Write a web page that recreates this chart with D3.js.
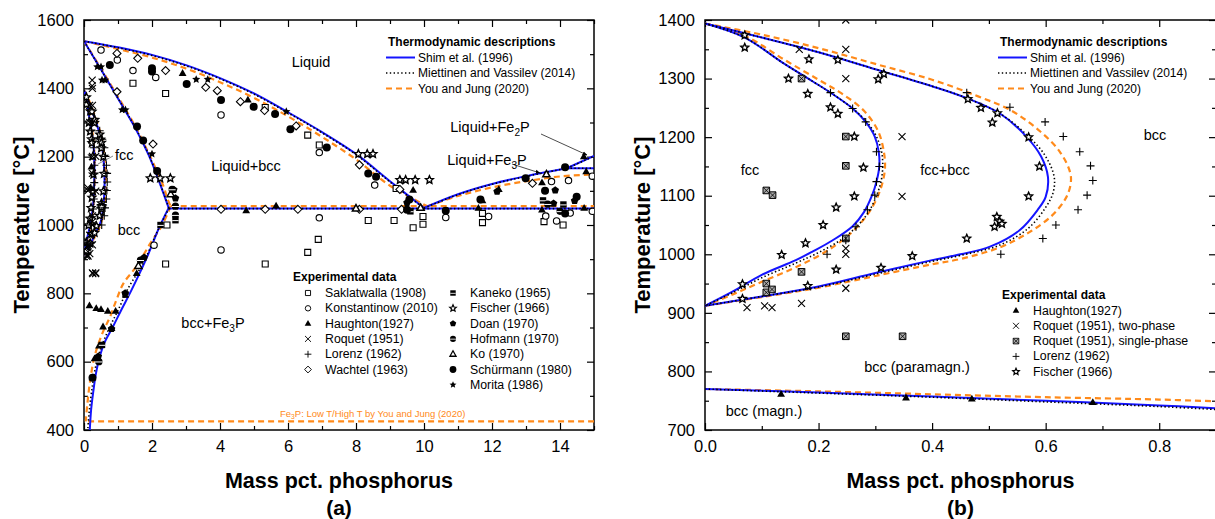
<!DOCTYPE html>
<html><head><meta charset="utf-8">
<script src="https://cdn.jsdelivr.net/npm/d3@7"></script>
<style>
body{margin:0;background:#fff;}
svg{display:block;font-family:"Liberation Sans",Arial,sans-serif;}
</style></head><body>
<svg id="chart" width="1215" height="519"></svg>
<script>
// ===== Calculated phase boundaries, panel (a): 0–15 mass% P =====
const shimLiquidus = [[0,1538],[1,1520],[2,1498],[3,1468],[4,1430],[5,1385],[6,1330],[7,1272],[8,1208],[9,1128],[10.0,1050]];
const shimSolidus  = [[0,1538],[0.5,1455],[1,1370],[1.5,1285],[1.9,1205],[2.2,1130],[2.49,1050]];
const shimSolvus   = [[2.49,1050],[2.2,990],[1.85,905],[1.4,810],[1.1,752],[0.85,702],[0.6,655],[0.45,610],[0.35,565],[0.27,510],[0.21,460],[0.17,400]];
const shimEutectic = [[2.49,1048],[15,1048]];
const shimFe3PLiq  = [[10.0,1050],[11,1090],[12,1120],[13,1143],[14.2,1166]];
const shimFe3PFlat = [[14.2,1166],[15,1166]];
const shimFe2PLiq  = [[14.2,1166],[15,1202]];

const mietLiquidus = [[0,1538],[1,1519],[2,1496],[3,1466],[4,1428],[5,1383],[6,1328],[7,1270],[8,1206],[9,1126],[10.0,1049]];
const mietSolidus  = [[0,1538],[0.5,1455],[1,1371],[1.5,1287],[1.9,1207],[2.2,1132],[2.5,1049]];
const mietSolvus   = [[2.5,1049],[2.15,980],[1.75,890],[1.3,815],[1.0,750],[0.75,700],[0.5,640],[0.33,580],[0.22,510],[0.15,450],[0.11,400]];
const mietEutectic = [[2.5,1048],[15,1048]];
const mietFe3PLiq  = [[10.0,1049],[11,1089],[12,1119],[13,1142],[14.2,1166]];
const mietFe3PFlat = [[14.2,1166],[15,1166]];
const mietFe2PLiq  = [[14.2,1166],[15,1201]];

const youLiquidus  = [[0,1538],[1,1515],[2,1490],[3,1458],[4,1418],[5,1372],[6,1318],[7,1258],[8,1192],[9,1115],[10.1,1055]];
const youSolidus   = [[0,1538],[0.5,1458],[1,1375],[1.5,1290],[1.95,1200],[2.2,1145],[2.35,1110],[2.45,1078],[2.55,1055]];
const youSolvus    = [[2.55,1055],[2.3,1000],[1.95,946],[1.55,880],[1.16,829],[0.95,780],[0.77,732],[0.54,683],[0.31,615],[0.17,537],[0.09,468],[0.05,425]];
const youEutectic  = [[2.55,1055],[15,1055]];
const youFe3PLiq   = [[10.1,1055],[11,1085],[12,1110],[13,1128],[14,1142],[15,1148]];
const youFe3PTrans = [[0.12,425],[15,425]];

// ===== Calculated phase boundaries, panel (b): gamma loop and Curie line =====
const shimInner = [[0,1394],[0.07,1370],[0.14,1325],[0.19,1295],[0.221,1276],[0.26,1249],[0.283,1226],[0.299,1201],[0.306,1175],[0.307,1150],[0.302,1124],[0.294,1100],[0.28,1072],[0.26,1048],[0.225,1024],[0.19,1005],[0.16,990],[0.1,965],[0.05,937],[0,912]];
const shimOuter = [[0,1394],[0.1,1370],[0.2,1345],[0.3,1316],[0.4,1287],[0.46,1267],[0.52,1240],[0.566,1201],[0.592,1167],[0.604,1132],[0.6,1098],[0.586,1076],[0.554,1041],[0.502,1013],[0.45,1000],[0.4,990],[0.3,968],[0.2,945],[0.1,928],[0,912]];
const mietInner = [[0,1394],[0.07,1370],[0.14,1325],[0.19,1295],[0.221,1276],[0.26,1249],[0.285,1226],[0.302,1201],[0.311,1175],[0.313,1150],[0.31,1124],[0.302,1100],[0.288,1072],[0.268,1048],[0.24,1025],[0.2,1003],[0.16,985],[0.1,960],[0.05,935],[0,912]];
const mietOuter = [[0,1394],[0.1,1370],[0.2,1345],[0.3,1316],[0.4,1287],[0.46,1267],[0.52,1240],[0.57,1201],[0.6,1167],[0.615,1132],[0.613,1105],[0.6,1080],[0.57,1045],[0.52,1016],[0.45,998],[0.4,988],[0.3,966],[0.2,944],[0.1,928],[0,912]];
const youInner  = [[0,1394],[0.07,1373],[0.14,1332],[0.2,1298],[0.24,1275],[0.28,1245],[0.305,1210],[0.315,1175],[0.317,1148],[0.312,1120],[0.3,1090],[0.28,1060],[0.25,1030],[0.21,1003],[0.16,978],[0.1,953],[0.05,932],[0,912]];
const youOuter  = [[0,1394],[0.1,1375],[0.2,1352],[0.3,1325],[0.4,1298],[0.48,1270],[0.54,1245],[0.59,1210],[0.625,1175],[0.643,1140],[0.644,1120],[0.635,1095],[0.61,1065],[0.57,1037],[0.52,1012],[0.45,992],[0.4,983],[0.3,963],[0.2,943],[0.1,927],[0,912]];
const shimCurie = [[0,770],[0.2,764],[0.4,757],[0.6,750],[0.8,742],[0.9,737]];
const mietCurie = [[0,770],[0.2,763],[0.4,756],[0.6,748],[0.8,740],[0.9,735]];
const youCurie  = [[0,770],[0.2,766],[0.4,761],[0.6,756],[0.8,752],[0.9,749]];

// ===== Experimental data, panel (b) (also shown in the gamma loop of panel (a)) =====
const haughtonB = [[0.134,761],[0.354,755],[0.47,753],[0.683,747]];
const roquetTwoB = [[0.248,1400],[0.166,1350],[0.248,1350],[0.248,1300],[0.347,1201],[0.347,1099],[0.248,1010],[0.248,1000],[0.248,942],[0.074,909],[0.105,912],[0.118,909],[0.17,916]];
const roquetOneB = [[0.17,1300],[0.248,1201],[0.248,1151],[0.108,1109],[0.119,1101],[0.248,1027],[0.17,970],[0.108,950],[0.108,935],[0.118,940],[0.248,860],[0.348,860]];
const lorenzB = [[0.221,1276],[0.26,1249],[0.283,1226],[0.302,1175],[0.307,1150],[0.302,1124],[0.299,1101],[0.286,1076],[0.266,1047],[0.248,1024],[0.215,1000],
  [0.461,1276],[0.537,1251],[0.599,1226],[0.631,1201],[0.66,1175],[0.679,1151],[0.683,1126],[0.673,1101],[0.657,1076],[0.618,1050],[0.595,1027],[0.521,1000]];
const fischerB = [[0.07,1374],[0.07,1353],[0.147,1300],[0.183,1333],[0.181,1274],[0.221,1251],[0.234,1240],[0.234,1332],[0.305,1299],[0.315,1308],[0.263,1201],[0.279,1148],[0.263,1099],[0.231,1080],[0.208,1050],[0.177,1019],[0.135,999],[0.365,997],
  [0.463,1265],[0.486,1250],[0.515,1241],[0.506,1225],[0.57,1200],[0.589,1150],[0.57,1099],[0.514,1064],[0.519,1056],[0.51,1047],[0.523,1052],[0.461,1027],[0.066,949],[0.066,924],[0.231,974],[0.181,946],[0.31,977]];

// ===== Experimental data, panel (a) =====
const saklatwallaA = [[1.44,1415],[2.4,1385],[5.33,1344],[6.58,1263],[6.92,1234],[9.18,1107],[9.68,992],[9.97,1002],[9.12,1013],[8.36,1013],[11.72,1007],[13.53,1010],[14.09,1000],[6.89,958],[6.58,920],[2.4,886],[5.33,886],[2.44,1000],[9.97,1025],[11.72,1034]];
const konstantinowA = [[0.5,1512],[0.98,1483],[1.44,1452],[2.11,1432],[4.03,1322],[6.92,1212],[8.55,1117],[6.92,1021],[4.03,927],[10.64,1022],[13.58,1026],[13.75,1127],[2.06,941],[11.9,1025],[13.9,1012],[14.3,1035],[14.95,1040],[14.95,1143],[14.25,1130]];
const haughtonA = [[2.9,1444],[4.82,1366],[9.68,1102],[4.77,1042],[5.65,1056],[11.72,1071],[12.2,1104],[13.47,1124],[14.77,1156],[14.71,1049],[13.47,1044],[11.6,1049],[14.7,1200],
  [0.16,764],[0.36,756],[0.5,753],[0.7,748],[0.93,748],[0.56,702],[0.81,697],[0.44,646],[0.31,609],[0.25,553],[1.55,858],[0.22,1170],[0.2,1108]];
const roquetA = [[0.24,1424],[0.24,1407],[0.26,858],[0.34,858]];
const wachtelA = [[0.97,1502],[1.58,1488],[0.97,1390],[2.03,1237],[2.4,1452],[3.58,1403],[3.92,1393],[4.6,1361],[5.31,1335],[6.24,1290],[8.1,1176],[9.29,1104],[4.03,1046],[5.33,1046],[6.29,1046],[8.1,1046],[9.34,1046],[13.19,1122]];
const kanekoA = [[2.25,1000],[2.69,1014],[1.22,796],[0.53,649],[13.5,1072],[14.1,1060],[9.6,1040]];
const fischerA = [[8.07,1208],[8.33,1208],[8.5,1208],[9.29,1132],[9.46,1132],[9.74,1132],[10.16,1132],[1.95,1137],[2.24,1137],[2.54,1137]];
const doanA = [[2.64,1103],[2.69,1078],[1.77,905],[1.21,800],[0.81,696],[0.42,615],[13.86,1102],[13.81,1063],[14.43,1071],[9.5,1065],[12.15,1098]];
const hofmannA = [[2.59,1104],[2.69,1055],[2.69,1029],[0.44,600],[1.66,897],[14.0,1040],[13.64,1061]];
const koA = [[2.55,1090],[9.9,1050],[13.6,1148],[8.0,1048],[1.6,880]];
const schurmannA = [[0.76,1468],[2.0,1459],[2.0,1449],[3.02,1413],[4.03,1366],[4.99,1346],[5.62,1325],[6.07,1280],[7.14,1227],[8.36,1151],[8.59,1141],[9.57,1075],[10.64,1042],[11.66,1075],[12.99,1137],[13.56,1100],[14.15,1169],[14.49,1083],[14.15,1034],[1.56,1288],[1.74,1247],[2.15,1158],[0.25,553],[9.5,1045]];
const moritaA = [[0.39,1463],[0.5,1463],[0.53,1424],[0.62,1424],[1.12,1337],[1.22,1337],[2.0,1208],[3.3,1426],[3.64,1426],[5.95,1332]];

// ===== Tick values =====
const xTicksA = [0,2,4,6,8,10,12,14], xMinorA = [1,3,5,7,9,11,13,15];
const yTicksA = [400,600,800,1000,1200,1400,1600], yMinorA = [500,700,900,1100,1300,1500];
const xTicksB = [0,0.2,0.4,0.6,0.8], xMinorB = [0.1,0.3,0.5,0.7,0.9];
const yTicksB = [700,800,900,1000,1100,1200,1300,1400], yMinorB = [750,850,950,1050,1150,1250,1350];

// ===== Legend labels =====
const modelNames = ["Shim et al. (1996)","Miettinen and Vassilev (2014)","You and Jung (2020)"];
const expNamesA1 = ["Saklatwalla (1908)","Konstantinow (2010)","Haughton(1927)","Roquet (1951)","Lorenz (1962)","Wachtel (1963)"];
const expNamesA2 = ["Kaneko (1965)","Fischer (1966)","Doan (1970)","Hofmann (1970)","Ko (1970)","Schürmann (1980)","Morita (1986)"];
const expNamesB = ["Haughton(1927)","Roquet (1951), two-phase","Roquet (1951), single-phase","Lorenz (1962)","Fischer (1966)"];

// ===== Setup =====
const svg = d3.select("#chart");
const defs = svg.append("defs");
const BLUE = "#1414ff", ORANGE = "#ff8a1a";
const modelStyle = {
  shim: {stroke: BLUE, w: 2, dash: null},
  miet: {stroke: "#000", w: 1.6, dash: "1.4,2.4"},
  you:  {stroke: ORANGE, w: 2.2, dash: "6,4"}
};

const xA = d3.scaleLinear().domain([0,15]).range([84,594]);
const yA = d3.scaleLinear().domain([400,1600]).range([430,20]);
const xB = d3.scaleLinear().domain([0,0.9]).range([705,1216]);
const yB = d3.scaleLinear().domain([700,1400]).range([430,20]);

function clip(id, x, y) {
  defs.append("clipPath").attr("id", id).append("rect")
    .attr("x", x.range()[0]).attr("y", y.range()[1])
    .attr("width", x.range()[1]-x.range()[0]).attr("height", y.range()[0]-y.range()[1]);
}
clip("clipA", xA, yA); clip("clipB", xB, yB);

defs.append("marker").attr("id","arrow").attr("viewBox","0 0 10 10").attr("refX",9).attr("refY",5)
  .attr("markerWidth",7).attr("markerHeight",7).attr("orient","auto-start-reverse")
  .append("path").attr("d","M0,1 L10,5 L0,9 Z").attr("fill","#000");

// ===== Marker shapes =====
function starPath(R, r) {
  const p = [];
  for (let i = 0; i < 10; i++) {
    const a = -Math.PI/2 + i*Math.PI/5, rad = i % 2 ? r : R;
    p.push([rad*Math.cos(a), rad*Math.sin(a)]);
  }
  return "M" + p.map(q => q[0].toFixed(2)+","+q[1].toFixed(2)).join("L") + "Z";
}
function polyPath(n, R, rot) {
  const p = [];
  for (let i = 0; i < n; i++) {
    const a = rot + i*2*Math.PI/n;
    p.push([R*Math.cos(a), R*Math.sin(a)]);
  }
  return "M" + p.map(q => q[0].toFixed(2)+","+q[1].toFixed(2)).join("L") + "Z";
}
const shapes = {
  sq:    g => g.append("path").attr("d","M-3,-3h6v6h-6Z").attr("fill","#fff").attr("stroke","#000").attr("stroke-width",1.1),
  circ:  g => g.append("circle").attr("r",3.2).attr("fill","#fff").attr("stroke","#000").attr("stroke-width",1.1),
  tri:   g => g.append("path").attr("d","M0,-4.2L3.9,2.6L-3.9,2.6Z").attr("fill","#000"),
  x:     g => g.append("path").attr("d","M-3.5,-3.5L3.5,3.5M-3.5,3.5L3.5,-3.5").attr("stroke","#000").attr("stroke-width",1.1),
  plus:  g => g.append("path").attr("d","M-4,0H4M0,-4V4").attr("stroke","#000").attr("stroke-width",1.1),
  dia:   g => g.append("path").attr("d","M0,-4L4,0L0,4L-4,0Z").attr("fill","#fff").attr("stroke","#000").attr("stroke-width",1.1),
  kaneko:g => { g.append("path").attr("d","M-3.2,-3.2h6.4v6.4h-6.4Z").attr("fill","#000");
                g.append("path").attr("d","M-3.2,0.4H3.2").attr("stroke","#fff").attr("stroke-width",1); },
  star:  g => g.append("path").attr("d",starPath(4.1,1.9)).attr("fill","#fff").attr("stroke","#000").attr("stroke-width",1.4),
  starF: g => g.append("path").attr("d",starPath(4.3,2)).attr("fill","#000"),
  doan:  g => g.append("path").attr("d",polyPath(5,4,-Math.PI/2)).attr("fill","#000"),
  hof:   g => { g.append("circle").attr("r",3.6).attr("fill","#000");
                g.append("path").attr("d","M-3.6,0.3H3.6").attr("stroke","#fff").attr("stroke-width",1); },
  ko:    g => g.append("path").attr("d","M0,-4L3.6,2.4L-3.6,2.4Z").attr("fill","#fff").attr("stroke","#000").attr("stroke-width",1.5),
  dot:   g => g.append("circle").attr("r",4).attr("fill","#000"),
  hatch: g => { g.append("path").attr("d","M-3.3,-3.3h6.6v6.6h-6.6Z").attr("fill","#aaa").attr("stroke","#000").attr("stroke-width",1);
                g.append("path").attr("d","M-3.3,-3.3L3.3,3.3M-3.3,3.3L3.3,-3.3").attr("stroke","#000").attr("stroke-width",0.8); }
};

function scatter(g, data, x, y, type) {
  g.append("g").selectAll("g").data(data).join("g")
    .attr("transform", d => `translate(${x(d[0])},${y(d[1])})`)
    .each(function() { shapes[type](d3.select(this)); });
}
function curve(g, data, x, y, model) {
  const s = modelStyle[model];
  const line = d3.line().x(d => x(d[0])).y(d => y(d[1])).curve(d3.curveCatmullRom.alpha(0.5));
  g.append("path").attr("d", line(data)).attr("fill","none")
    .attr("stroke", s.stroke).attr("stroke-width", s.w)
    .attr("stroke-dasharray", s.dash).attr("stroke-linejoin","round");
}

// ===== Axes with inward ticks on all four sides =====
function axes(x, y, xMaj, xMin, yMaj, yMin, fmt) {
  const [x0, x1] = x.range(), [yb, yt] = y.range();
  const g = svg.append("g");
  const style = s => {
    s.select(".domain").remove();
    s.selectAll(".tick line").attr("stroke","#000").attr("stroke-width",1.2);
    s.selectAll(".tick text").attr("fill","#000").attr("font-size",16.5).attr("font-family",null);
    s.attr("font-family",null).attr("font-size",null);
  };
  g.append("g").attr("transform",`translate(0,${yb})`).call(d3.axisBottom(x).tickValues(xMaj).tickSize(-7).tickPadding(10).tickFormat(fmt)).call(style);
  g.append("g").attr("transform",`translate(0,${yb})`).call(d3.axisBottom(x).tickValues(xMin).tickSize(-4).tickFormat("")).call(style);
  g.append("g").attr("transform",`translate(0,${yt})`).call(d3.axisTop(x).tickValues(xMaj).tickSize(-7).tickFormat("")).call(style);
  g.append("g").attr("transform",`translate(0,${yt})`).call(d3.axisTop(x).tickValues(xMin).tickSize(-4).tickFormat("")).call(style);
  g.append("g").attr("transform",`translate(${x0},0)`).call(d3.axisLeft(y).tickValues(yMaj).tickSize(-7).tickPadding(10).tickFormat(d3.format("d"))).call(style);
  g.append("g").attr("transform",`translate(${x0},0)`).call(d3.axisLeft(y).tickValues(yMin).tickSize(-4).tickFormat("")).call(style);
  g.append("g").attr("transform",`translate(${x1},0)`).call(d3.axisRight(y).tickValues(yMaj).tickSize(-7).tickFormat("")).call(style);
  g.append("g").attr("transform",`translate(${x1},0)`).call(d3.axisRight(y).tickValues(yMin).tickSize(-4).tickFormat("")).call(style);
  g.append("rect").attr("x",x0).attr("y",yt).attr("width",x1-x0).attr("height",yb-yt)
    .attr("fill","none").attr("stroke","#000").attr("stroke-width",1.5);
  const cx = (x0+x1)/2;
  svg.append("text").attr("x",cx).attr("y",481).attr("text-anchor","middle").attr("dominant-baseline","central")
    .attr("font-size",21.5).attr("font-weight","bold").text("Mass pct. phosphorus");
  svg.append("text").attr("transform",`translate(${x0-63},${(yb+yt)/2}) rotate(-90)`).attr("text-anchor","middle")
    .attr("dominant-baseline","central").attr("font-size",22).attr("font-weight","bold").text("Temperature [°C]");
  return cx;
}

function label(x, y, parts, size, anchor, color) {
  const t = svg.append("text").attr("x",x).attr("y",y).attr("text-anchor",anchor||"middle")
    .attr("dominant-baseline","central").attr("font-size",size).attr("fill",color||"#000");
  parts.forEach(p => {
    if (typeof p === "string") t.append("tspan").text(p);
    else t.append("tspan").attr("font-size",size*0.7).attr("baseline-shift","sub").text(p.sub);
  });
  return t;
}

function modelLegend(x, y) {
  svg.append("text").attr("x",x+2).attr("y",y).attr("dominant-baseline","central")
    .attr("font-size",12).attr("font-weight","bold").text("Thermodynamic descriptions");
  ["shim","miet","you"].forEach((m, i) => {
    const s = modelStyle[m], yy = y + 15.5*(i+1);
    svg.append("line").attr("x1",x).attr("x2",x+29).attr("y1",yy).attr("y2",yy)
      .attr("stroke",s.stroke).attr("stroke-width",s.w).attr("stroke-dasharray",s.dash);
    svg.append("text").attr("x",x+32).attr("y",yy).attr("dominant-baseline","central")
      .attr("font-size",12).text(modelNames[i]);
  });
}
function expLegend(items, x, y, dy) {
  items.forEach((it, i) => {
    const yy = y + dy*i;
    const g = svg.append("g").attr("transform",`translate(${x},${yy})`);
    shapes[it[1]](g);
    g.attr("transform",`translate(${x},${yy}) scale(0.85)`);
    svg.append("text").attr("x",x+17).attr("y",yy).attr("dominant-baseline","central")
      .attr("font-size",12.3).text(it[0]);
  });
}

// ===================== Panel (a) =====================
const cxA = axes(xA, yA, xTicksA, xMinorA, yTicksA, yMinorA, d3.format("d"));
const gA = svg.append("g").attr("clip-path","url(#clipA)");

// model curves: dashed orange underneath, blue, dotted black on top
[youLiquidus, youSolidus, youSolvus, youEutectic, youFe3PLiq, youFe3PTrans, youInner, youOuter]
  .forEach(d => curve(gA, d, xA, yA, "you"));
[shimLiquidus, shimSolidus, shimSolvus, shimEutectic, shimFe3PLiq, shimFe3PFlat, shimFe2PLiq, shimInner, shimOuter]
  .forEach(d => curve(gA, d, xA, yA, "shim"));
[mietLiquidus, mietSolidus, mietSolvus, mietEutectic, mietFe3PLiq, mietFe3PFlat, mietFe2PLiq, mietInner, mietOuter]
  .forEach(d => curve(gA, d, xA, yA, "miet"));

scatter(gA, saklatwallaA, xA, yA, "sq");
scatter(gA, konstantinowA, xA, yA, "circ");
scatter(gA, wachtelA, xA, yA, "dia");
scatter(gA, koA, xA, yA, "ko");
scatter(gA, fischerA.concat(fischerB), xA, yA, "star");
scatter(gA, roquetA.concat(roquetTwoB, roquetOneB), xA, yA, "x");
scatter(gA, lorenzB, xA, yA, "plus");
scatter(gA, haughtonA, xA, yA, "tri");
scatter(gA, kanekoA, xA, yA, "kaneko");
scatter(gA, doanA, xA, yA, "doan");
scatter(gA, hofmannA, xA, yA, "hof");
scatter(gA, schurmannA, xA, yA, "dot");
scatter(gA, moritaA, xA, yA, "starF");

// phase-field labels
label(311, 62, ["Liquid"], 14.5);
label(246, 166, ["Liquid+bcc"], 14.5);
label(115, 155, ["fcc"], 14.5, "start");
svg.append("line").attr("x1",113).attr("y1",156).attr("x2",98).attr("y2",164).attr("stroke","#555").attr("stroke-width",0.7);
label(129, 230, ["bcc"], 14.5);
label(213, 323, ["bcc+Fe", {sub:"3"}, "P"], 14.5);
label(490, 127, ["Liquid+Fe", {sub:"2"}, "P"], 14.5);
label(487, 160, ["Liquid+Fe", {sub:"3"}, "P"], 14.5);
svg.append("line").attr("x1",541).attr("y1",134).attr("x2",587).attr("y2",155)
  .attr("stroke","#000").attr("stroke-width",0.7).attr("marker-end","url(#arrow)");
svg.append("line").attr("x1",512).attr("y1",164).attr("x2",540).attr("y2",173)
  .attr("stroke","#000").attr("stroke-width",0.7).attr("marker-end","url(#arrow)");
label(280, 413, ["Fe", {sub:"3"}, "P: Low T/High T by You and Jung (2020)"], 9.5, "start", ORANGE);

modelLegend(386, 42);
svg.append("text").attr("x",293).attr("y",277).attr("dominant-baseline","central")
  .attr("font-size",12).attr("font-weight","bold").text("Experimental data");
expLegend(expNamesA1.map((n,i) => [n, ["sq","circ","tri","x","plus","dia"][i]]), 308, 293, 15.3);
expLegend(expNamesA2.map((n,i) => [n, ["kaneko","star","doan","hof","ko","dot","starF"][i]]), 453, 293, 15.3);
svg.append("text").attr("x",cxA).attr("y",507).attr("text-anchor","middle").attr("dominant-baseline","central")
  .attr("font-size",21).attr("font-weight","bold").text("(a)");

// ===================== Panel (b) =====================
const cxB = axes(xB, yB, xTicksB, xMinorB, yTicksB, yMinorB, d3.format(".1f"));
const gB = svg.append("g").attr("clip-path","url(#clipB)");
[youInner, youOuter, youCurie].forEach(d => curve(gB, d, xB, yB, "you"));
[shimInner, shimOuter, shimCurie].forEach(d => curve(gB, d, xB, yB, "shim"));
[mietInner, mietOuter, mietCurie].forEach(d => curve(gB, d, xB, yB, "miet"));

scatter(gB, fischerB, xB, yB, "star");
scatter(gB, roquetTwoB, xB, yB, "x");
scatter(gB, roquetOneB, xB, yB, "hatch");
scatter(gB, lorenzB, xB, yB, "plus");
scatter(gB, haughtonB, xB, yB, "tri");

label(750, 170, ["fcc"], 14.5);
label(945, 170, ["fcc+bcc"], 14.5);
label(1155, 135, ["bcc"], 14.5);
label(917, 367, ["bcc (paramagn.)"], 14.5);
label(764, 411, ["bcc (magn.)"], 14.5);

modelLegend(998, 42);
svg.append("text").attr("x",1002).attr("y",295).attr("dominant-baseline","central")
  .attr("font-size",12).attr("font-weight","bold").text("Experimental data");
expLegend(expNamesB.map((n,i) => [n, ["tri","x","hatch","plus","star"][i]]), 1016, 310.5, 15.3);
svg.append("text").attr("x",cxB).attr("y",507).attr("text-anchor","middle").attr("dominant-baseline","central")
  .attr("font-size",21).attr("font-weight","bold").text("(b)");
</script>
</body></html>
